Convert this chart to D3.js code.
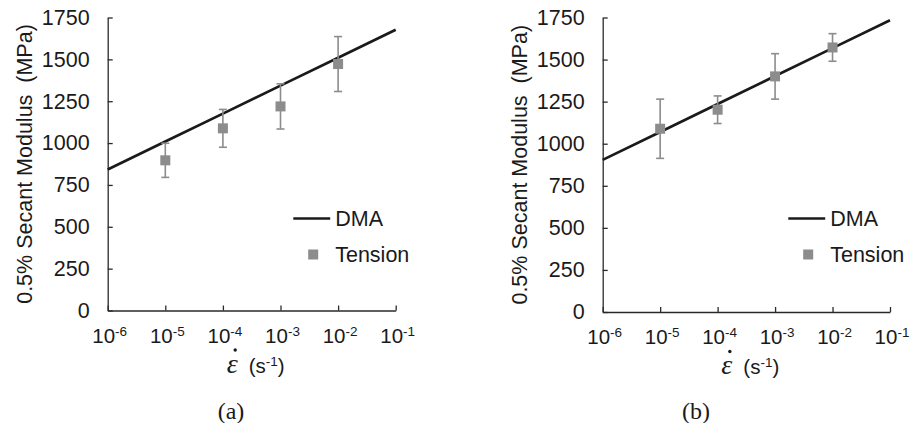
<!DOCTYPE html>
<html>
<head>
<meta charset="utf-8">
<script src="https://cdn.jsdelivr.net/npm/d3@7"></script>
<style>
  html, body { margin: 0; padding: 0; background: #fff; }
  svg { display: block; }
</style>
</head>
<body>
<svg id="chart" width="911" height="423"></svg>
<script>
// Strain-rate axis: decades from 10^-6 to 10^-1
const decadeExponents = [-6, -5, -4, -3, -2, -1];
const yTickValues = [0, 250, 500, 750, 1000, 1250, 1500, 1750];

// Tension test strain rates (s^-1)
const tensionRates = [1e-5, 1e-4, 1e-3, 1e-2];

// (a) 0.5% secant modulus (MPa)
const tensionA = [897, 1088, 1219, 1472];
const tensionErrA = [102, 113, 135, 164];
const dmaA = [842, 1009, 1176, 1343, 1510, 1677];

// (b) 0.5% secant modulus (MPa)
const tensionB = [1089, 1202, 1400, 1572];
const tensionErrB = [176, 82, 135, 82];
const dmaB = [904, 1070, 1236, 1402, 1568, 1734];

const panelLabels = ["(a)", "(b)"];
const seriesNames = ["DMA", "Tension"];
const yTitle = "0.5% Secant Modulus  (MPa)";

const INK = "#1a1a1a";
const GREY = "#8c8c8c";
const SANS = "'Liberation Sans', Arial, sans-serif";
const SERIF = "'Liberation Serif', 'Times New Roman', serif";

const panels = [
  { x0: 107.7, x1: 395.7, y0: 310.5, y1: 17.5, capX: 231,
    tension: tensionA, err: tensionErrA, dma: dmaA, label: panelLabels[0] },
  { x0: 602.7, x1: 890, y0: 312, y1: 17.5, capX: 696,
    tension: tensionB, err: tensionErrB, dma: dmaB, label: panelLabels[1] }
];

const svg = d3.select("#chart");

panels.forEach(p => {
  const g = svg.append("g");
  const x = d3.scaleLog().domain([1e-6, 1e-1]).range([p.x0, p.x1]);
  const y = d3.scaleLinear().domain([0, 1750]).range([p.y0, p.y1]);
  const decadeValues = decadeExponents.map(e => Math.pow(10, e));

  // x axis: inward ticks, labels drawn separately with superscripts
  const xAxis = g.append("g")
    .attr("transform", `translate(0,${p.y0})`)
    .call(d3.axisBottom(x).tickValues(decadeValues).tickSize(-5).tickSizeOuter(0).tickFormat(""));
  xAxis.selectAll("path, line").attr("stroke", "#2a2a2a").attr("stroke-width", 1.3);

  // y axis: inward ticks
  const yAxis = g.append("g")
    .attr("transform", `translate(${p.x0},0)`)
    .call(d3.axisLeft(y).tickValues(yTickValues).tickSize(-5).tickSizeOuter(0)
      .tickPadding(18).tickFormat(d3.format("d")));
  yAxis.selectAll("path, line").attr("stroke", "#2a2a2a").attr("stroke-width", 1.3);
  yAxis.selectAll("text")
    .attr("font-family", SANS).attr("font-size", 21.5).attr("fill", INK);

  // x tick labels: 10^n
  decadeExponents.forEach((e, i) => {
    const t = g.append("text")
      .attr("x", x(decadeValues[i]) + 2)
      .attr("y", p.y0 + 32)
      .attr("text-anchor", "middle")
      .attr("font-family", SANS).attr("font-size", 20.5).attr("fill", INK);
    t.append("tspan").text("10");
    t.append("tspan").attr("dy", -7).attr("font-size", 13.5).text("-" + Math.abs(e));
  });

  // x axis title: strain rate (epsilon with an overdot)
  const mid = (p.x0 + p.x1) / 2;
  const ty = p.y0 + 62;
  g.append("text")
    .attr("x", mid - 25).attr("y", ty)
    .attr("font-family", SERIF).attr("font-style", "italic")
    .attr("font-size", 28).attr("fill", INK)
    .text("\u03B5");
  g.append("circle")
    .attr("cx", mid - 16.5).attr("cy", ty - 22.5)
    .attr("r", 1.7).attr("fill", INK);
  const xt = g.append("text")
    .attr("x", mid - 3).attr("y", ty)
    .attr("font-family", SANS).attr("font-size", 20.5).attr("fill", INK);
  xt.append("tspan").text("(s");
  xt.append("tspan").attr("dy", -7).attr("font-size", 13.5).text("-1");
  xt.append("tspan").attr("dy", 7).text(")");

  // y axis title
  g.append("text")
    .attr("transform", `translate(${p.x0 - 83.5},${(p.y0 + p.y1) / 2}) rotate(-90)`)
    .attr("text-anchor", "middle")
    .attr("dy", "0.35em")
    .style("white-space", "pre")
    .attr("font-family", SANS).attr("font-size", 21.5).attr("fill", INK)
    .text(yTitle);

  // DMA curve
  const dmaPts = decadeValues.map((r, i) => [r, p.dma[i]]);
  g.append("path")
    .datum(dmaPts)
    .attr("fill", "none")
    .attr("stroke", INK)
    .attr("stroke-width", 2.7)
    .attr("d", d3.line().x(d => x(d[0])).y(d => y(d[1])));

  // Tension error bars
  const pts = tensionRates.map((r, i) => ({ r, v: p.tension[i], e: p.err[i] }));
  const eb = g.append("g").attr("stroke", GREY).attr("stroke-width", 1.6);
  pts.forEach(d => {
    const cx = x(d.r);
    eb.append("line").attr("x1", cx).attr("x2", cx).attr("y1", y(d.v - d.e)).attr("y2", y(d.v + d.e));
    eb.append("line").attr("x1", cx - 4).attr("x2", cx + 4).attr("y1", y(d.v - d.e)).attr("y2", y(d.v - d.e));
    eb.append("line").attr("x1", cx - 4).attr("x2", cx + 4).attr("y1", y(d.v + d.e)).attr("y2", y(d.v + d.e));
  });

  // Tension markers
  g.append("g").selectAll("rect").data(pts).join("rect")
    .attr("x", d => x(d.r) - 5).attr("y", d => y(d.v) - 5)
    .attr("width", 10).attr("height", 10)
    .attr("fill", GREY);

  // Legend
  const lg = g.append("g").attr("transform", `translate(${p.x0},0)`);
  lg.append("line").attr("x1", 185.6).attr("x2", 222.5).attr("y1", 218.5).attr("y2", 218.5)
    .attr("stroke", INK).attr("stroke-width", 2.4);
  lg.append("text").attr("x", 227.5).attr("y", 226)
    .attr("font-family", SANS).attr("font-size", 21.5).attr("fill", INK).text(seriesNames[0]);
  lg.append("rect").attr("x", 205.5 - 5).attr("y", 254.5 - 5).attr("width", 10).attr("height", 10)
    .attr("fill", GREY);
  lg.append("text").attr("x", 227.5).attr("y", 262)
    .attr("font-family", SANS).attr("font-size", 21.5).attr("fill", INK).text(seriesNames[1]);

  // Panel caption
  g.append("text").attr("x", p.capX).attr("y", 419)
    .attr("text-anchor", "middle")
    .attr("font-family", SERIF).attr("font-size", 24).attr("fill", INK)
    .text(p.label);
});
</script>
</body>
</html>
